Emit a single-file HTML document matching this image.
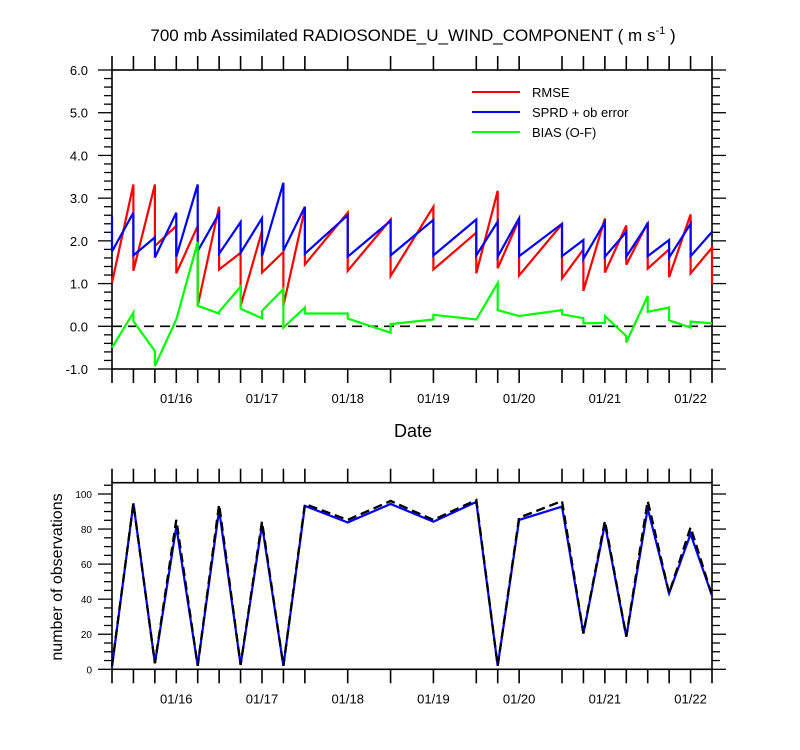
<!DOCTYPE html>
<html><head><meta charset="utf-8"><style>
body{margin:0;background:#fff;}
svg{display:block;font-family:"Liberation Sans",sans-serif;}
</style></head><body>
<svg id="chart" width="800" height="750"></svg>
<script>
const steps=[0,1,2,3,4,5,6,7,8,9,11,13,15,17,18,19,21,22,23,24,25,26,27,28];
const dateLabels=['01/16','01/17','01/18','01/19','01/20','01/21','01/22'];
const dateSteps=[3,7,11,15,19,23,27];
const rmseEnd=[1.02,3.32,3.32,2.35,2.35,2.80,1.72,2.23,1.74,2.75,2.66,2.50,2.80,2.19,3.17,2.50,2.39,1.80,2.52,2.36,2.43,1.80,2.62,1.84];
const rmseStart=[1.02,1.30,1.88,1.24,0.48,1.33,0.48,1.26,0.48,1.45,1.30,1.18,1.33,1.24,1.36,1.19,1.12,0.83,1.26,1.44,1.35,1.15,1.24,0.98];
const sprdEnd=[2.58,2.66,2.08,2.66,3.32,2.64,2.44,2.53,3.36,2.80,2.60,2.47,2.49,2.50,2.45,2.53,2.40,2.02,2.44,2.21,2.40,2.02,2.40,2.21];
const sprdStart=[1.75,1.66,1.61,1.63,1.76,1.70,1.72,1.64,1.77,1.70,1.63,1.66,1.66,1.66,1.63,1.64,1.64,1.58,1.63,1.63,1.64,1.61,1.64,2.21];
const biasEnd=[-0.50,0.32,-0.58,0.16,1.97,0.30,0.93,0.19,0.87,0.44,0.30,-0.15,0.16,0.16,1.01,0.24,0.38,0.19,0.08,-0.23,0.71,0.44,-0.03,0.07];
const biasStart=[-0.50,0.12,-0.93,0.16,0.48,0.34,0.41,0.36,-0.03,0.30,0.18,0.05,0.27,0.16,0.38,0.24,0.28,0.07,0.24,-0.38,0.34,0.14,0.11,0.07];
const nobsUsed=[1.5,94.7,3.4,81.3,2,91,2.5,82.3,2,93.2,83.8,94.3,84.2,95.5,2,85.2,92.8,20.5,82.9,18.6,91.8,43.3,77.2,42];
const nobsTotal=[2,94.7,3.4,85.2,2,94,2.5,84.2,2,94.3,85.2,96,85.2,96.6,2,86.5,96,20.5,84.6,18.6,96,43.3,81,42];
const yTicksTop=[-1,0,1,2,3,4,5,6];
const yTicksBot=[0,20,40,60,80,100];

const svg=document.getElementById('chart');
const NS='http://www.w3.org/2000/svg';
function mk(tag,attrs,parent){const e=document.createElementNS(NS,tag);for(const k in attrs)e.setAttribute(k,attrs[k]);(parent||svg).appendChild(e);return e;}
const X0=112,X1=712;
const xs=k=>X0+k*(X1-X0)/28;
const yTop=v=>369-(v+1)*299/7;
const yBot=v=>669.3-v*(175.3/100);

// title
let t=mk('text',{x:413,y:41,'text-anchor':'middle','font-size':17});


t.innerHTML='700 mb Assimilated RADIOSONDE_U_WIND_COMPONENT ( m s<tspan dy="-7" font-size="11">-1</tspan><tspan dy="7"> )</tspan>';

function frame(top,bot,name){
  const g=mk('g',{});
  
  
  mk('rect',{x:X0,y:top,width:X1-X0,height:bot-top,fill:'none',stroke:'#000','stroke-width':1.6},g);
  steps.forEach(k=>{
    const x=xs(k);
    mk('line',{x1:x,x2:x,y1:top,y2:top-14,stroke:'#000','stroke-width':1.6},g);
    mk('line',{x1:x,x2:x,y1:bot,y2:bot+14,stroke:'#000','stroke-width':1.6},g);
  });
  dateSteps.forEach((k,i)=>{
    const l=mk('text',{x:xs(k),y:bot+34,'text-anchor':'middle','font-size':13},g);
    
    
    l.textContent=dateLabels[i];
  });
}
frame(70,369,'top-plot');
frame(482.7,669.3,'bottom-plot');

// top y axis
const ga=mk('g',{});


for(let v=-1;v<=6.001;v+=0.2){
  const y=yTop(v);const major=Math.abs(v-Math.round(v))<0.01;const len=major?14:8;
  mk('line',{x1:X0,x2:X0-len,y1:y,y2:y,stroke:'#000','stroke-width':1.3},ga);
  mk('line',{x1:X1,x2:X1+len,y1:y,y2:y,stroke:'#000','stroke-width':1.3},ga);
}
yTicksTop.forEach(v=>{
  const l=mk('text',{x:88,y:yTop(v)+5,'text-anchor':'end','font-size':13},ga);
  
  
  l.textContent=v.toFixed(1);
});
// bottom y axis
const gb=mk('g',{});


for(let v=0;v<=106;v+=5){
  const y=yBot(v);const major=v%20===0;const len=major?14:8;
  mk('line',{x1:X0,x2:X0-len,y1:y,y2:y,stroke:'#000','stroke-width':1.3},gb);
  mk('line',{x1:X1,x2:X1+len,y1:y,y2:y,stroke:'#000','stroke-width':1.3},gb);
}
yTicksBot.forEach(v=>{
  const l=mk('text',{x:92,y:yBot(v)+4,'text-anchor':'end','font-size':10},gb);
  
  
  l.textContent=v;
});

// zero line
const z=mk('line',{x1:X0,x2:X1,y1:yTop(0),y2:yTop(0),stroke:'#000','stroke-width':1.6,'stroke-dasharray':'10,6'});



function saw(endA,startA,color,name){
  let d='';
  steps.forEach((k,i)=>{
    const x=xs(k);
    d+=(i===0?'M':'L')+x.toFixed(1)+' '+yTop(endA[i]).toFixed(1)+' L'+x.toFixed(1)+' '+yTop(startA[i]).toFixed(1)+' ';
  });
  const p=mk('path',{d:d,fill:'none',stroke:color,'stroke-width':2.2,'stroke-linejoin':'miter'});
  
  
}
saw(rmseEnd,rmseStart,'#ff0000','rmse-line');
saw(sprdEnd,sprdStart,'#0000ff','sprd-line');
saw(biasEnd,biasStart,'#00ff00','bias-line');

function line(vals,color,name,dash){
  const d=steps.map((k,i)=>(i?'L':'M')+xs(k).toFixed(1)+' '+yBot(vals[i]).toFixed(1)).join(' ');
  const p=mk('path',{d:d,fill:'none',stroke:color,'stroke-width':2.2});
  if(dash)p.setAttribute('stroke-dasharray',dash);
  
  
}
line(nobsTotal,'#000','nobs-total-line','9,5');
line(nobsUsed,'#0000ff','nobs-used-line');
line(nobsTotal,'#000','nobs-total-line-overlay','9,5');

// legend
const lg=mk('g',{});


[['RMSE','#ff0000',92],['SPRD + ob error','#0000ff',112],['BIAS (O-F)','#00ff00',132]].forEach(e=>{
  const g=mk('g',{},lg);
  
  
  mk('line',{x1:472,x2:520,y1:e[2],y2:e[2],stroke:e[1],'stroke-width':2},g);
  const l=mk('text',{x:532,y:e[2]+5,'font-size':13},g);
  l.textContent=e[0];
});

// axis titles
const xt=mk('text',{x:413,y:437,'text-anchor':'middle','font-size':18});


xt.textContent='Date';
const yt=mk('text',{x:0,y:0,'text-anchor':'middle','font-size':16,transform:'translate(62,577) rotate(-90)'});


yt.textContent='number of observations';
</script>
</body></html>
